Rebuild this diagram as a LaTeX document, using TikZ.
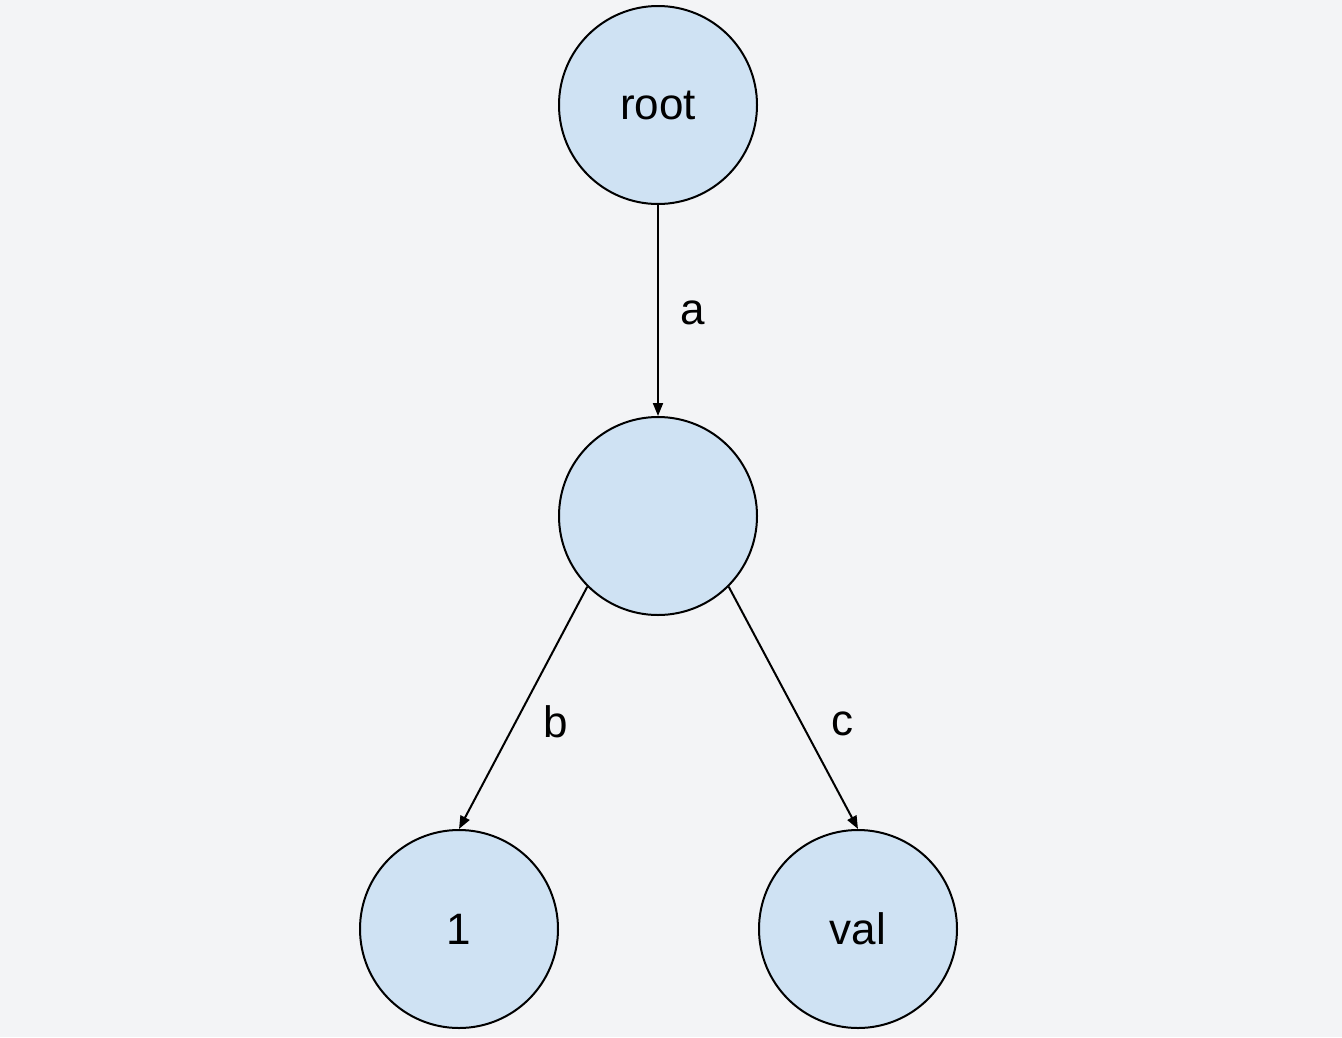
\documentclass[tikz,border=0pt]{standalone}
\usepackage{fontspec}
\setmainfont{Liberation Sans}
\usetikzlibrary{arrows.meta}
\definecolor{bg}{HTML}{F3F4F6}
\definecolor{nodefill}{HTML}{CFE2F3}
\begin{document}
\begin{tikzpicture}[x=1pt,y=-1pt,
  treenode/.style={circle,draw=black,line width=2pt,fill=nodefill,minimum size=198pt,inner sep=0pt,font=\fontsize{44}{50}\selectfont},
  edge/.style={line width=2pt,-{Triangle[length=13pt,width=10pt]}},
  lbl/.style={font=\fontsize{44}{50}\selectfont}]
\fill[bg] (0,0) rectangle (1342,1037);
\useasboundingbox (0,0) rectangle (1342,1037);
\node[treenode] (root) at (658,105) {root};
\node[treenode] (mid) at (658,516) {};
\node[treenode] (one) at (459,929) {1};
\node[treenode] (val) at (858,929) {val};
\draw[edge] (root.south) -- (mid.north);
\draw[edge] (mid.south west) -- (one.north);
\draw[edge] (mid.south east) -- (val.north);
\node[lbl] (la) at (693,313) {a};
\node[lbl] (lb) at (556,722) {b};
\node[lbl] (lc) at (842,724) {c};
\end{tikzpicture}
\end{document}
